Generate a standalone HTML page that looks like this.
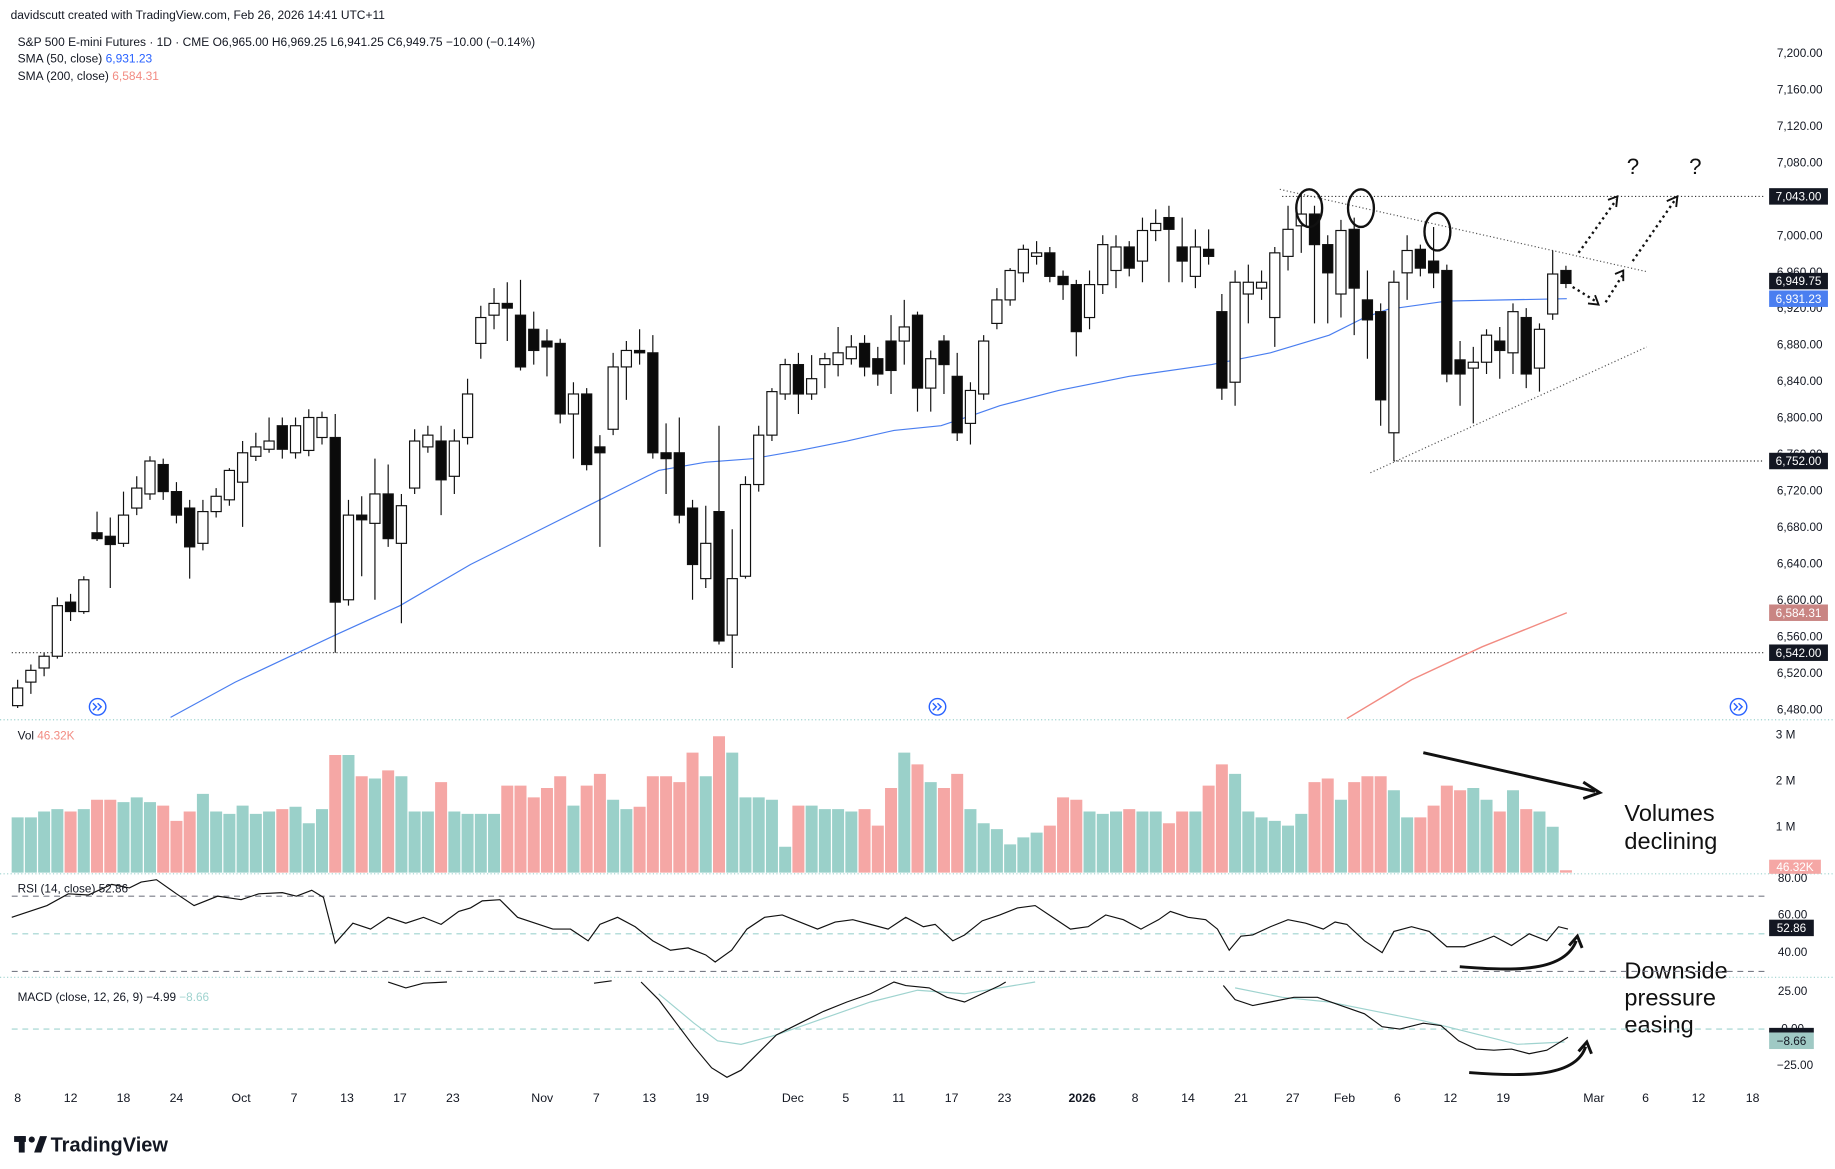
<!DOCTYPE html>
<html><head><meta charset="utf-8"><style>
html,body{margin:0;padding:0;background:#fff;}
svg{display:block;font-family:"Liberation Sans",sans-serif;}
.u{fill:#fff;stroke:#111;stroke-width:1}
.d{fill:#0b0b0b;stroke:#111;stroke-width:1}
</style></head><body>
<svg width="1835" height="1169" viewBox="0 0 1560 994" preserveAspectRatio="none" xmlns="http://www.w3.org/2000/svg">
<rect width="1560" height="994" fill="#fff"/>
<line x1="0" y1="612" x2="1560" y2="612" stroke="#9fd3cf" stroke-dasharray="1,2"/>
<line x1="0" y1="743" x2="1560" y2="743" stroke="#9fd3cf" stroke-dasharray="1,2"/>
<line x1="0" y1="831" x2="1560" y2="831" stroke="#9fd3cf" stroke-dasharray="1,2"/>
<text x="9" y="16" font-size="10.2" fill="#131722">davidscutt created with TradingView.com, Feb 26, 2026 14:41 UTC+11</text>
<text x="15" y="39" font-size="10.2" fill="#131722">S&amp;P 500 E-mini Futures · 1D · CME  O6,965.00  H6,969.25  L6,941.25  C6,949.75  −10.00 (−0.14%)</text>
<text x="15" y="53" font-size="10.2" fill="#131722">SMA (50, close) <tspan fill="#2962ff">6,931.23</tspan></text>
<text x="15" y="68" font-size="10.2" fill="#131722">SMA (200, close) <tspan fill="#f28b82">6,584.31</tspan></text>
<line x1="10" y1="555" x2="1500" y2="555" stroke="#333" stroke-dasharray="1,2"/>
<line x1="1090" y1="167" x2="1500" y2="167" stroke="#333" stroke-dasharray="1,2"/>
<line x1="1185" y1="392" x2="1500" y2="392" stroke="#333" stroke-dasharray="1,2"/>
<line x1="1088" y1="161" x2="1400" y2="231" stroke="#555" stroke-dasharray="1,2"/>
<line x1="1165" y1="402" x2="1400" y2="295" stroke="#555" stroke-dasharray="1,2"/>
<polyline fill="none" stroke="#4a7ef0" stroke-width="1" points="145,610 200,580 285,540 340,515 400,480 450,455 500,430 560,400 600,393 640,390 680,383 720,375 760,366 800,362 830,352 850,345 900,332 960,320 1030,310 1080,300 1130,285 1160,270 1180,263 1230,256 1280,255 1332,254"/>
<polyline fill="none" stroke="#f28b82" stroke-width="1.2" points="1145,611 1200,578 1260,550 1332,521"/>
<path fill="none" stroke="#111" stroke-width="1" d="M15 578V602M26.25 565V590M37.5 555V575M48.75 508V560M60 505V528M71.25 490V522M82.5 435V460M93.75 440V500M105 418V465M116.25 405V438M127.5 388V425M138.75 390V425M150 410V445M161.25 425V492M172.5 425V468M183.75 415V440M195 398V430M206.25 375V448M217.5 368V392M228.75 355V385M240 355V390M251.25 355V390M262.5 348V388M273.75 350V378M285 352V555M296.25 425V515M307.5 422V490M318.75 390V510M330 395V465M341.25 420V530M352.5 365V420M363.75 362V385M375 362V438M386.25 365V420M397.5 322V378M408.75 260V305M420 245V280M431.25 240V290M442.5 238V315M453.75 265V310M465 280V320M476.25 288V360M487.5 325V390M498.75 330V400M510 370V465M521.25 300V370M532.5 290V340M543.75 280V310M555 285V390M566.25 360V420M577.5 355V445M588.75 425V510M600 430V500M611.25 362V548M622.5 450V568M633.75 405V492M645 362V418M656.25 330V375M667.5 305V340M678.75 300V352M690 302V340M701.25 300V330M712.5 278V320M723.75 285V310M735 285V320M746.25 295V328M757.5 268V335M768.75 255V310M780 265V350M791.25 298V350M802.5 285V335M813.75 300V375M825 325V378M836.25 285V340M847.5 245V280M858.75 228V260M870 208V240M881.25 205V225M892.5 210V240M903.75 230V255M915 238V303M926.25 230V280M937.5 200V250M948.75 200V245M960 205V235M971.25 185V240M982.5 178V205M993.75 175V240M1005 185V240M1016.25 195V245M1027.5 195V225M1038.75 250V340M1050 230V345M1061.25 225V275M1072.5 230V255M1083.75 210V295M1095 175V230M1106.25 165V215M1117.5 175V275M1128.75 200V275M1140 187V270M1151.25 185V285M1162.5 230V305M1173.75 258V362M1185 230V392M1196.25 200V255M1207.5 208V235M1218.75 193V245M1230 225V325M1241.25 290V345M1252.5 295V360M1263.75 280V318M1275 278V322M1286.25 258V318M1297.5 262V330M1308.75 275V333M1320 213V272M1331.25 226V245"/>
<g>
<rect class="u" x="10.7" y="585" width="8.6" height="15"/>
<rect class="u" x="21.95" y="570" width="8.6" height="10"/>
<rect class="u" x="33.2" y="558" width="8.6" height="10"/>
<rect class="u" x="44.45" y="515" width="8.6" height="43"/>
<rect class="d" x="55.7" y="512" width="8.6" height="8"/>
<rect class="u" x="66.95" y="493" width="8.6" height="27"/>
<rect class="d" x="78.2" y="453" width="8.6" height="5"/>
<rect class="d" x="89.45" y="456" width="8.6" height="7"/>
<rect class="u" x="100.7" y="438" width="8.6" height="24"/>
<rect class="u" x="111.95" y="415" width="8.6" height="17"/>
<rect class="u" x="123.2" y="392" width="8.6" height="28"/>
<rect class="d" x="134.45" y="395" width="8.6" height="23"/>
<rect class="d" x="145.7" y="418" width="8.6" height="20"/>
<rect class="d" x="156.95" y="432" width="8.6" height="33"/>
<rect class="u" x="168.2" y="435" width="8.6" height="27"/>
<rect class="u" x="179.45" y="422" width="8.6" height="13"/>
<rect class="u" x="190.7" y="400" width="8.6" height="25"/>
<rect class="u" x="201.95" y="385" width="8.6" height="25"/>
<rect class="u" x="213.2" y="380" width="8.6" height="8"/>
<rect class="u" x="224.45" y="375" width="8.6" height="7"/>
<rect class="d" x="235.7" y="362" width="8.6" height="20"/>
<rect class="u" x="246.95" y="362" width="8.6" height="23"/>
<rect class="u" x="258.2" y="355" width="8.6" height="28"/>
<rect class="u" x="269.45" y="355" width="8.6" height="17"/>
<rect class="d" x="280.7" y="372" width="8.6" height="140"/>
<rect class="u" x="291.95" y="438" width="8.6" height="72"/>
<rect class="d" x="303.2" y="438" width="8.6" height="4"/>
<rect class="u" x="314.45" y="420" width="8.6" height="25"/>
<rect class="d" x="325.7" y="420" width="8.6" height="38"/>
<rect class="u" x="336.95" y="430" width="8.6" height="32"/>
<rect class="u" x="348.2" y="375" width="8.6" height="40"/>
<rect class="u" x="359.45" y="370" width="8.6" height="10"/>
<rect class="d" x="370.7" y="375" width="8.6" height="33"/>
<rect class="u" x="381.95" y="375" width="8.6" height="30"/>
<rect class="u" x="393.2" y="335" width="8.6" height="37"/>
<rect class="u" x="404.45" y="270" width="8.6" height="22"/>
<rect class="u" x="415.7" y="258" width="8.6" height="10"/>
<rect class="d" x="426.95" y="258" width="8.6" height="4"/>
<rect class="d" x="438.2" y="268" width="8.6" height="44"/>
<rect class="d" x="449.45" y="280" width="8.6" height="18"/>
<rect class="d" x="460.7" y="290" width="8.6" height="5"/>
<rect class="d" x="471.95" y="292" width="8.6" height="60"/>
<rect class="u" x="483.2" y="335" width="8.6" height="17"/>
<rect class="d" x="494.45" y="335" width="8.6" height="60"/>
<rect class="d" x="505.7" y="380" width="8.6" height="5"/>
<rect class="u" x="516.95" y="312" width="8.6" height="53"/>
<rect class="u" x="528.2" y="298" width="8.6" height="14"/>
<rect class="d" x="539.45" y="298" width="8.6" height="2"/>
<rect class="d" x="550.7" y="300" width="8.6" height="85"/>
<rect class="d" x="561.95" y="385" width="8.6" height="5"/>
<rect class="d" x="573.2" y="385" width="8.6" height="53"/>
<rect class="d" x="584.45" y="432" width="8.6" height="48"/>
<rect class="u" x="595.7" y="462" width="8.6" height="30"/>
<rect class="d" x="606.95" y="435" width="8.6" height="110"/>
<rect class="u" x="618.2" y="492" width="8.6" height="48"/>
<rect class="u" x="629.45" y="412" width="8.6" height="78"/>
<rect class="u" x="640.7" y="370" width="8.6" height="42"/>
<rect class="u" x="651.95" y="333" width="8.6" height="37"/>
<rect class="u" x="663.2" y="310" width="8.6" height="25"/>
<rect class="d" x="674.45" y="310" width="8.6" height="25"/>
<rect class="u" x="685.7" y="322" width="8.6" height="13"/>
<rect class="u" x="696.95" y="305" width="8.6" height="5"/>
<rect class="u" x="708.2" y="300" width="8.6" height="10"/>
<rect class="u" x="719.45" y="295" width="8.6" height="10"/>
<rect class="d" x="730.7" y="292" width="8.6" height="20"/>
<rect class="d" x="741.95" y="305" width="8.6" height="13"/>
<rect class="d" x="753.2" y="290" width="8.6" height="25"/>
<rect class="u" x="764.45" y="278" width="8.6" height="12"/>
<rect class="d" x="775.7" y="268" width="8.6" height="62"/>
<rect class="u" x="786.95" y="305" width="8.6" height="25"/>
<rect class="d" x="798.2" y="290" width="8.6" height="20"/>
<rect class="d" x="809.45" y="320" width="8.6" height="48"/>
<rect class="u" x="820.7" y="332" width="8.6" height="28"/>
<rect class="u" x="831.95" y="290" width="8.6" height="45"/>
<rect class="u" x="843.2" y="255" width="8.6" height="20"/>
<rect class="u" x="854.45" y="230" width="8.6" height="25"/>
<rect class="u" x="865.7" y="212" width="8.6" height="20"/>
<rect class="u" x="876.95" y="215" width="8.6" height="3"/>
<rect class="d" x="888.2" y="215" width="8.6" height="20"/>
<rect class="d" x="899.45" y="235" width="8.6" height="7"/>
<rect class="d" x="910.7" y="242" width="8.6" height="40"/>
<rect class="u" x="921.95" y="242" width="8.6" height="28"/>
<rect class="u" x="933.2" y="208" width="8.6" height="34"/>
<rect class="u" x="944.45" y="210" width="8.6" height="20"/>
<rect class="d" x="955.7" y="210" width="8.6" height="18"/>
<rect class="u" x="966.95" y="196" width="8.6" height="26"/>
<rect class="u" x="978.2" y="190" width="8.6" height="6"/>
<rect class="d" x="989.45" y="185" width="8.6" height="10"/>
<rect class="d" x="1000.7" y="210" width="8.6" height="12"/>
<rect class="u" x="1011.95" y="210" width="8.6" height="25"/>
<rect class="d" x="1023.2" y="212" width="8.6" height="6"/>
<rect class="d" x="1034.45" y="265" width="8.6" height="65"/>
<rect class="u" x="1045.7" y="240" width="8.6" height="85"/>
<rect class="u" x="1056.95" y="240" width="8.6" height="10"/>
<rect class="u" x="1068.2" y="240" width="8.6" height="5"/>
<rect class="u" x="1079.45" y="215" width="8.6" height="55"/>
<rect class="u" x="1090.7" y="195" width="8.6" height="23"/>
<rect class="u" x="1101.95" y="182" width="8.6" height="10"/>
<rect class="d" x="1113.2" y="182" width="8.6" height="26"/>
<rect class="d" x="1124.45" y="208" width="8.6" height="24"/>
<rect class="u" x="1135.7" y="196" width="8.6" height="54"/>
<rect class="d" x="1146.95" y="195" width="8.6" height="50"/>
<rect class="d" x="1158.2" y="255" width="8.6" height="17"/>
<rect class="d" x="1169.45" y="265" width="8.6" height="75"/>
<rect class="u" x="1180.7" y="240" width="8.6" height="128"/>
<rect class="u" x="1191.95" y="213" width="8.6" height="19"/>
<rect class="d" x="1203.2" y="212" width="8.6" height="16"/>
<rect class="d" x="1214.45" y="222" width="8.6" height="10"/>
<rect class="d" x="1225.7" y="230" width="8.6" height="88"/>
<rect class="d" x="1236.95" y="306" width="8.6" height="12"/>
<rect class="u" x="1248.2" y="308" width="8.6" height="5"/>
<rect class="u" x="1259.45" y="285" width="8.6" height="23"/>
<rect class="d" x="1270.7" y="290" width="8.6" height="8"/>
<rect class="u" x="1281.95" y="265" width="8.6" height="35"/>
<rect class="d" x="1293.2" y="270" width="8.6" height="48"/>
<rect class="u" x="1304.45" y="280" width="8.6" height="33"/>
<rect class="u" x="1315.7" y="233" width="8.6" height="34"/>
<rect class="d" x="1326.95" y="230" width="8.6" height="11"/>
</g>
<g fill="none" stroke="#111" stroke-width="2">
<ellipse cx="1113" cy="177" rx="11" ry="16"/>
<ellipse cx="1157" cy="177" rx="11" ry="16"/>
<ellipse cx="1222" cy="197" rx="11" ry="16"/>
</g>
<g fill="none" stroke="#111" stroke-width="2" stroke-dasharray="2,3">
<line x1="1342" y1="215" x2="1374" y2="170"/>
<line x1="1388" y1="222" x2="1424" y2="170"/>
<line x1="1337" y1="244" x2="1358" y2="257"/>
<line x1="1365" y1="257" x2="1380" y2="233"/>
</g>
<g fill="none" stroke="#111" stroke-width="1.6">
<polyline points="1367,170 1375,167 1374,176"/>
<polyline points="1417,171 1426,167 1425,176"/>
<polyline points="1350,258 1359,259 1356,251"/>
<polyline points="1373,233 1380,230 1380,239"/>
</g>
<text x="1383" y="148" font-size="19" fill="#111">?</text>
<text x="1436" y="148" font-size="19" fill="#111">?</text>
<!-- volume -->
<path fill="#9ad0c9" d="M9.9,742V695h10.2V742ZM21.15,742V695h10.2V742ZM32.4,742V690h10.2V742ZM43.65,742V688h10.2V742ZM66.15,742V688h10.2V742ZM99.9,742V682h10.2V742ZM111.15,742V678h10.2V742ZM122.4,742V682h10.2V742ZM167.4,742V675h10.2V742ZM178.65,742V690h10.2V742ZM189.9,742V692h10.2V742ZM201.15,742V685h10.2V742ZM212.4,742V692h10.2V742ZM223.65,742V690h10.2V742ZM246.15,742V686h10.2V742ZM257.4,742V700h10.2V742ZM268.65,742V688h10.2V742ZM291.15,742V642h10.2V742ZM313.65,742V662h10.2V742ZM336.15,742V660h10.2V742ZM347.4,742V690h10.2V742ZM358.65,742V690h10.2V742ZM381.15,742V690h10.2V742ZM392.4,742V692h10.2V742ZM403.65,742V692h10.2V742ZM414.9,742V692h10.2V742ZM482.4,742V685h10.2V742ZM516.15,742V680h10.2V742ZM527.4,742V688h10.2V742ZM594.9,742V660h10.2V742ZM617.4,742V640h10.2V742ZM628.65,742V678h10.2V742ZM639.9,742V678h10.2V742ZM651.15,742V680h10.2V742ZM662.4,742V720h10.2V742ZM684.9,742V685h10.2V742ZM696.15,742V688h10.2V742ZM707.4,742V688h10.2V742ZM718.65,742V690h10.2V742ZM763.65,742V640h10.2V742ZM786.15,742V665h10.2V742ZM819.9,742V688h10.2V742ZM831.15,742V700h10.2V742ZM842.4,742V705h10.2V742ZM853.65,742V718h10.2V742ZM864.9,742V712h10.2V742ZM876.15,742V708h10.2V742ZM921.15,742V690h10.2V742ZM932.4,742V692h10.2V742ZM943.65,742V690h10.2V742ZM966.15,742V690h10.2V742ZM977.4,742V690h10.2V742ZM1011.15,742V690h10.2V742ZM1044.9,742V658h10.2V742ZM1056.15,742V690h10.2V742ZM1067.4,742V695h10.2V742ZM1078.65,742V698h10.2V742ZM1089.9,742V702h10.2V742ZM1101.15,742V692h10.2V742ZM1134.9,742V680h10.2V742ZM1179.9,742V672h10.2V742ZM1191.15,742V695h10.2V742ZM1247.4,742V670h10.2V742ZM1258.65,742V680h10.2V742ZM1281.15,742V672h10.2V742ZM1303.65,742V690h10.2V742ZM1314.9,742V703h10.2V742Z"/>
<path fill="#f5a7a5" d="M54.9,742V690h10.2V742ZM77.4,742V680h10.2V742ZM88.65,742V680h10.2V742ZM133.65,742V685h10.2V742ZM144.9,742V698h10.2V742ZM156.15,742V690h10.2V742ZM234.9,742V688h10.2V742ZM279.9,742V642h10.2V742ZM302.4,742V660h10.2V742ZM324.9,742V655h10.2V742ZM369.9,742V665h10.2V742ZM426.15,742V668h10.2V742ZM437.4,742V668h10.2V742ZM448.65,742V678h10.2V742ZM459.9,742V670h10.2V742ZM471.15,742V660h10.2V742ZM493.65,742V668h10.2V742ZM504.9,742V658h10.2V742ZM538.65,742V686h10.2V742ZM549.9,742V660h10.2V742ZM561.15,742V660h10.2V742ZM572.4,742V665h10.2V742ZM583.65,742V640h10.2V742ZM606.15,742V626h10.2V742ZM673.65,742V685h10.2V742ZM729.9,742V688h10.2V742ZM741.15,742V702h10.2V742ZM752.4,742V670h10.2V742ZM774.9,742V650h10.2V742ZM797.4,742V670h10.2V742ZM808.65,742V658h10.2V742ZM887.4,742V702h10.2V742ZM898.65,742V678h10.2V742ZM909.9,742V680h10.2V742ZM954.9,742V688h10.2V742ZM988.65,742V700h10.2V742ZM999.9,742V690h10.2V742ZM1022.4,742V668h10.2V742ZM1033.65,742V650h10.2V742ZM1112.4,742V665h10.2V742ZM1123.65,742V662h10.2V742ZM1146.15,742V665h10.2V742ZM1157.4,742V660h10.2V742ZM1168.65,742V660h10.2V742ZM1202.4,742V695h10.2V742ZM1213.65,742V685h10.2V742ZM1224.9,742V668h10.2V742ZM1236.15,742V672h10.2V742ZM1269.9,742V690h10.2V742ZM1292.4,742V688h10.2V742ZM1326.15,742V740h10.2V742Z"/>
<line x1="1210" y1="640" x2="1356" y2="673" stroke="#111" stroke-width="2.5"/>
<polyline points="1346,665 1360,674 1346,679" fill="none" stroke="#111" stroke-width="2.5"/>
<text x="1381" y="698" font-size="20" fill="#111">Volumes</text>
<text x="1381" y="722" font-size="20" fill="#111">declining</text>
<text x="1381" y="832" font-size="20" fill="#111">Downside</text>
<text x="1381" y="855" font-size="20" fill="#111">pressure</text>
<text x="1381" y="878" font-size="20" fill="#111">easing</text>
<path d="M1241,822 C1290,826 1330,826 1340,800" fill="none" stroke="#111" stroke-width="2.5"/>
<polyline points="1334,804 1341,796 1345,806" fill="none" stroke="#111" stroke-width="2.5"/>
<path d="M1249,912 C1300,916 1340,915 1348,890" fill="none" stroke="#111" stroke-width="2.5"/>
<polyline points="1342,894 1349,886 1353,896" fill="none" stroke="#111" stroke-width="2.5"/>
<text x="15" y="629" font-size="10" fill="#131722">Vol <tspan fill="#f28b82">46.32K</tspan></text>
<line x1="10" y1="762" x2="1500" y2="762" stroke="#787b86" stroke-dasharray="5,4"/>
<line x1="10" y1="794" x2="1500" y2="794" stroke="#9fd3cf" stroke-dasharray="5,4"/>
<line x1="10" y1="826" x2="1500" y2="826" stroke="#787b86" stroke-dasharray="5,4"/>
<polyline fill="none" stroke="#111" stroke-width="1" points="10,780 40,770 58,760 75,761 95,752 110,755 120,750 133,748 150,760 165,770 185,762 205,765 220,760 240,759 252,762 265,757 275,763 285,802 300,785 315,790 330,780 345,785 360,780 375,786 390,775 400,772 410,766 425,765 440,780 455,785 470,790 485,790 500,800 510,786 525,780 540,788 555,800 570,808 585,806 600,812 608,818 622,808 635,790 650,780 665,778 680,784 695,790 710,784 725,782 740,786 755,790 770,780 785,788 795,786 810,800 820,795 835,783 850,778 865,772 880,770 895,780 910,790 925,788 940,778 955,782 970,790 985,782 995,775 1010,780 1025,782 1035,790 1045,808 1055,796 1065,795 1080,788 1095,782 1110,785 1125,790 1135,784 1145,786 1160,800 1175,810 1185,792 1200,788 1215,792 1230,805 1245,805 1260,800 1270,796 1285,804 1300,794 1315,800 1325,788 1333,790"/>
<text x="15" y="759" font-size="10" fill="#131722">RSI (14, close)  52.86</text>
<line x1="10" y1="875" x2="1500" y2="875" stroke="#9fd3cf" stroke-dasharray="5,4"/>
<g fill="none" stroke-width="1">
<polyline stroke="#9fd3cf" points="560,845 590,870 610,885 630,888 660,880 700,866 740,852 780,842 820,845 850,840 880,835"/>
<polyline stroke="#9fd3cf" points="1050,840 1090,848 1130,852 1170,860 1210,868 1250,878 1290,888 1330,886"/>
<polyline stroke="#111" points="330,835 345,840 360,836 380,835"/>
<polyline stroke="#111" points="505,836 520,834"/>
<polyline stroke="#111" points="545,835 560,850 575,870 590,890 605,908 618,916 630,910 645,895 660,880 680,870 700,860 720,852 740,845 760,835 770,838 790,840 805,848 820,852 835,845 850,838 855,835"/>
<polyline stroke="#111" points="1040,838 1050,850 1065,855 1080,852 1100,848 1120,848 1140,855 1160,862 1175,873 1190,875 1210,870 1225,872 1240,885 1255,892 1270,893 1285,892 1300,896 1315,893 1333,882"/>
</g>
<text x="15" y="851" font-size="10" fill="#131722">MACD (close, 12, 26, 9)  −4.99  <tspan fill="#9fd3cf">−8.66</tspan></text>
<!-- right axis -->
<g font-size="10" fill="#131722" text-anchor="middle">
<text x="1530" y="48.5">7,200.00</text><text x="1530" y="79.5">7,160.00</text><text x="1530" y="110.5">7,120.00</text><text x="1530" y="141.5">7,080.00</text><text x="1530" y="203.5">7,000.00</text><text x="1530" y="234.5">6,960.00</text><text x="1530" y="265.5">6,920.00</text><text x="1530" y="296.5">6,880.00</text><text x="1530" y="327.5">6,840.00</text><text x="1530" y="358.5">6,800.00</text><text x="1530" y="389.5">6,760.00</text><text x="1530" y="420.5">6,720.00</text><text x="1530" y="451.5">6,680.00</text><text x="1530" y="482.5">6,640.00</text><text x="1530" y="513.5">6,600.00</text><text x="1530" y="544.5">6,560.00</text><text x="1530" y="575.5">6,520.00</text><text x="1530" y="606.5">6,480.00</text>
<text x="1518" y="628">3 M</text><text x="1518" y="667">2 M</text><text x="1518" y="706">1 M</text>
<text x="1524" y="750">80.00</text><text x="1524" y="781">60.00</text><text x="1524" y="813">40.00</text><text x="1524" y="846">25.00</text><text x="1524" y="878">0.00</text><text x="1526" y="909">−25.00</text>
<rect x="1504" y="160" width="50" height="14" fill="#131722"/><text x="1529" y="170.5" fill="#fff">7,043.00</text>
<rect x="1504" y="232" width="50" height="14" fill="#131722"/><text x="1529" y="242.5" fill="#fff">6,949.75</text>
<rect x="1504" y="247" width="50" height="14" fill="#4a7ef0"/><text x="1529" y="257.5" fill="#fff">6,931.23</text>
<rect x="1504" y="385" width="50" height="14" fill="#131722"/><text x="1529" y="395.5" fill="#fff">6,752.00</text>
<rect x="1504" y="514" width="50" height="14" fill="#c98583"/><text x="1529" y="524.5" fill="#fff">6,584.31</text>
<rect x="1504" y="548" width="50" height="14" fill="#131722"/><text x="1529" y="558.5" fill="#fff">6,542.00</text>
<rect x="1504" y="731" width="44" height="12" fill="#f5a7a5"/><text x="1526" y="740.5" fill="#fff">46.32K</text>
<rect x="1504" y="782" width="38" height="14" fill="#131722"/><text x="1523" y="792.5" fill="#fff">52.86</text>
<rect x="1504" y="874" width="38" height="4" fill="#131722"/>
<rect x="1504" y="878" width="38" height="14" fill="#9fc9c4"/><text x="1523" y="888.5">−8.66</text>
</g>
<g font-size="10.5" fill="#131722" text-anchor="middle">
<text x="15" y="937">8</text><text x="60" y="937">12</text><text x="105" y="937">18</text><text x="150" y="937">24</text><text x="205" y="937">Oct</text><text x="250" y="937">7</text><text x="295" y="937">13</text><text x="340" y="937">17</text><text x="385" y="937">23</text><text x="461" y="937">Nov</text><text x="507" y="937">7</text><text x="552" y="937">13</text><text x="597" y="937">19</text><text x="674" y="937">Dec</text><text x="719" y="937">5</text><text x="764" y="937">11</text><text x="809" y="937">17</text><text x="854" y="937">23</text><text x="920" y="937" font-weight="bold">2026</text><text x="965" y="937">8</text><text x="1010" y="937">14</text><text x="1055" y="937">21</text><text x="1099" y="937">27</text><text x="1143" y="937">Feb</text><text x="1188" y="937">6</text><text x="1233" y="937">12</text><text x="1278" y="937">19</text><text x="1355" y="937">Mar</text><text x="1399" y="937">6</text><text x="1444" y="937">12</text><text x="1490" y="937">18</text>
</g>
<g fill="none" stroke="#2962ff" stroke-width="1.2">
<circle cx="83" cy="601" r="7"/><circle cx="797" cy="601" r="7"/><circle cx="1478" cy="601" r="7"/>
<polyline points="79,598 82,601 79,604"/><polyline points="83,598 86,601 83,604"/>
<polyline points="793,598 796,601 793,604"/><polyline points="797,598 800,601 797,604"/>
<polyline points="1474,598 1477,601 1474,604"/><polyline points="1478,598 1481,601 1478,604"/>
</g>
<g fill="#131722"><rect x="12" y="966" width="10" height="5"/><rect x="16" y="966" width="5" height="14"/><circle cx="27" cy="969" r="2.6"/><polygon points="29,980 34,966 40,966 35,980"/></g>
<text x="43" y="979" font-size="17" font-weight="bold" fill="#131722">TradingView</text>
</svg>
</body></html>
